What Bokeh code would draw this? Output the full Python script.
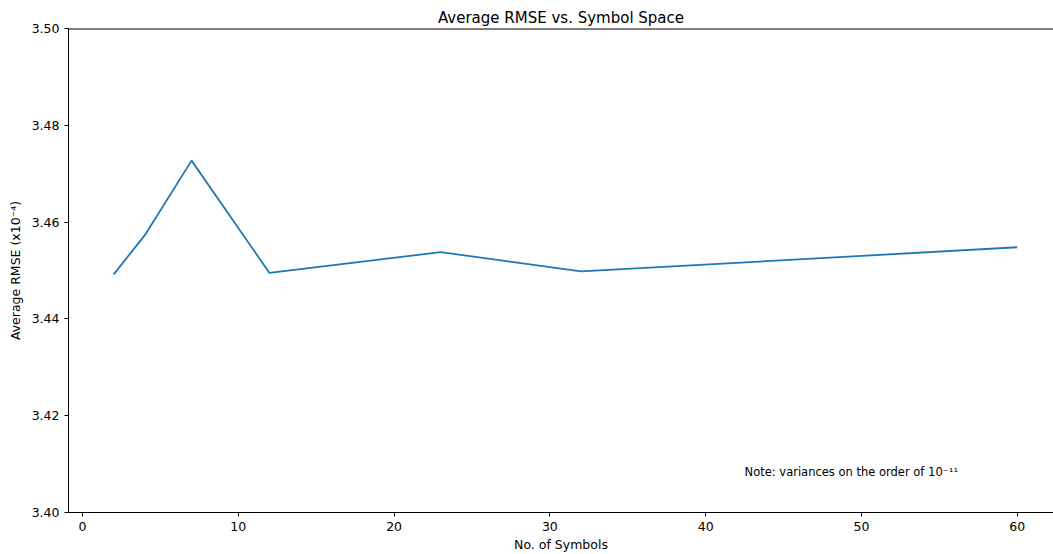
from bokeh.plotting import figure
from bokeh.models import Range1d, FixedTicker, Span, Label, NumeralTickFormatter, ColumnDataSource
from bokeh.embed import file_html
from bokeh.resources import INLINE

symbols = [2, 4, 7, 12, 23, 32, 60]
avg_rmse = [3.4492, 3.4573, 3.4727, 3.4495, 3.4538, 3.4498, 3.4548]
x_ticks = [0, 10, 20, 30, 40, 50, 60]
y_ticks = [3.40, 3.42, 3.44, 3.46, 3.48, 3.50]

FONT = "DejaVu Sans"

p = figure(width=1053, height=554, output_backend="svg", toolbar_location=None,
           x_range=Range1d(-0.9, 62.33), y_range=Range1d(3.40, 3.50),
           title="Average RMSE vs. Symbol Space",
           min_border_left=68, min_border_right=0, min_border_top=28, min_border_bottom=41)

p.title.align = "center"
p.title.text_font = FONT
p.title.text_font_size = "15px"
p.title.text_font_style = "normal"
p.title.text_color = "black"
p.title.standoff = 4

p.xgrid.visible = False
p.ygrid.visible = False
p.outline_line_color = None
p.background_fill_color = "white"
p.border_fill_color = "white"

src = ColumnDataSource(data=dict(x=symbols, y=avg_rmse))
p.line("x", "y", source=src, line_color="#1f77b4", line_width=1.8)

for ax in (p.xaxis[0], p.yaxis[0]):
    ax.axis_line_color = "black"
    ax.axis_line_width = 1.0
    ax.major_tick_line_color = "black"
    ax.major_tick_line_width = 1.0
    ax.major_tick_in = 0
    ax.major_tick_out = 4
    ax.minor_tick_line_color = None
    ax.major_label_text_font = FONT
    ax.major_label_text_font_size = "12.5px"
    ax.major_label_text_color = "black"
    ax.axis_label_text_font = FONT
    ax.axis_label_text_font_size = "12.5px"
    ax.axis_label_text_font_style = "normal"
    ax.axis_label_text_color = "black"
    ax.major_label_standoff = 5

p.xaxis.ticker = FixedTicker(ticks=x_ticks)
p.yaxis.ticker = FixedTicker(ticks=y_ticks)
p.yaxis.formatter = NumeralTickFormatter(format="0.00")
p.xaxis.axis_label = "No. of Symbols"
p.yaxis.axis_label = "Average RMSE (x10\u207b\u2074)"
p.xaxis.axis_label_standoff = 3
p.yaxis.axis_label_standoff = 6

p.add_layout(Span(location=3.50, dimension="width", line_color="black", line_width=1.8))

note = Label(x=42.5, y=3.4084, text="Note: variances on the order of 10\u207b\u00b9\u00b9",
             text_font=FONT, text_font_size="11.5px", text_color="black",
             text_baseline="alphabetic")
p.add_layout(note)

open("out.html", "w").write(file_html(p, INLINE))
